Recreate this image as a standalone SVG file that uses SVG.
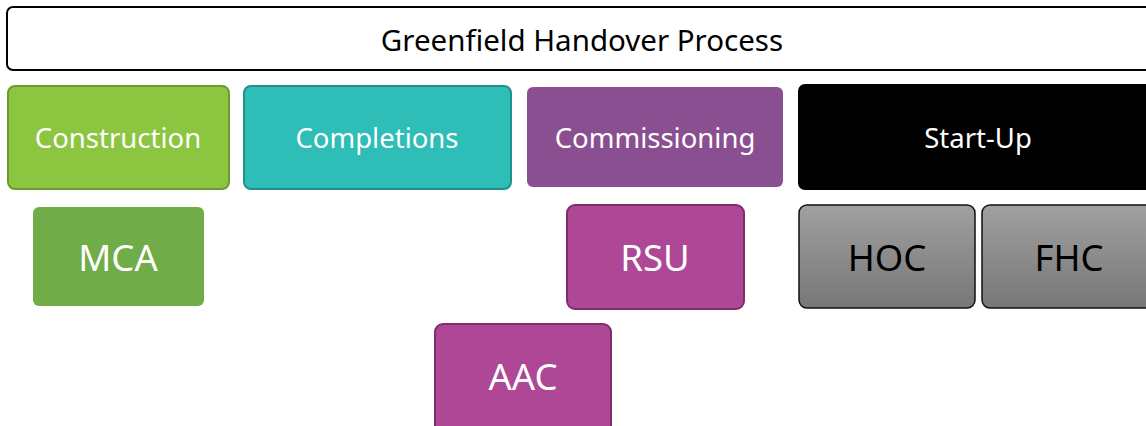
<svg xmlns="http://www.w3.org/2000/svg" width="1146" height="426" viewBox="0 0 1146 426">
  <style>
    text { font-family: "Noto Sans", "Open Sans", "DejaVu Sans", sans-serif; text-anchor: middle; dominant-baseline: central; }
    .head { font-size: 27.5px; fill: #ffffff; }
    .big { font-size: 36.5px; fill: #ffffff; }
    .dark { fill: #000000; }
  </style>
  <defs>
    <linearGradient id="grey" x1="0" y1="0" x2="0" y2="1">
      <stop offset="0" stop-color="#a0a0a0"/>
      <stop offset="1" stop-color="#777777"/>
    </linearGradient>
  </defs>

  <g id="title">
    <rect x="7" y="7" width="1150" height="63" rx="6" fill="#ffffff" stroke="#000000" stroke-width="2"/>
    <text x="582" y="39" class="dark" style="font-size:29.5px">Greenfield Handover Process</text>
  </g>

  <g id="construction">
    <rect x="8" y="86" width="221" height="103" rx="7" fill="#8cc540" stroke="#6a9a30" stroke-width="2"/>
    <text x="118" y="137" class="head">Construction</text>
  </g>
  <g id="completions">
    <rect x="244" y="86" width="267" height="103" rx="7" fill="#2ebdb7" stroke="#1f908b" stroke-width="2"/>
    <text x="377" y="137" class="head">Completions</text>
  </g>
  <g id="commissioning">
    <rect x="527" y="87" width="256" height="100" rx="6" fill="#894f91"/>
    <text x="655" y="137" class="head">Commissioning</text>
  </g>
  <g id="startup">
    <rect x="798" y="84" width="360" height="106" rx="7" fill="#000000"/>
    <text x="978" y="137" class="head">Start-Up</text>
  </g>

  <g id="mca">
    <rect x="33" y="207" width="171" height="99" rx="6" fill="#70ac48"/>
    <text x="118" y="257" class="big">MCA</text>
  </g>
  <g id="rsu">
    <rect x="567" y="205" width="177" height="104" rx="8" fill="#ad4796" stroke="#7f2e6b" stroke-width="2"/>
    <text x="655" y="257" class="big">RSU</text>
  </g>
  <g id="hoc">
    <rect x="799" y="205" width="176" height="103" rx="8" fill="url(#grey)" stroke="#111111" stroke-width="1.5"/>
    <text x="887" y="257" class="big dark">HOC</text>
  </g>
  <g id="fhc">
    <rect x="982" y="205" width="176" height="103" rx="8" fill="url(#grey)" stroke="#111111" stroke-width="1.5"/>
    <text x="1069" y="257" class="big dark">FHC</text>
  </g>
  <g id="aac">
    <rect x="435" y="324" width="176" height="110" rx="8" fill="#ad4796" stroke="#7f2e6b" stroke-width="2"/>
    <text x="523" y="376" class="big">AAC</text>
  </g>

  <g id="connectors"/>
</svg>
